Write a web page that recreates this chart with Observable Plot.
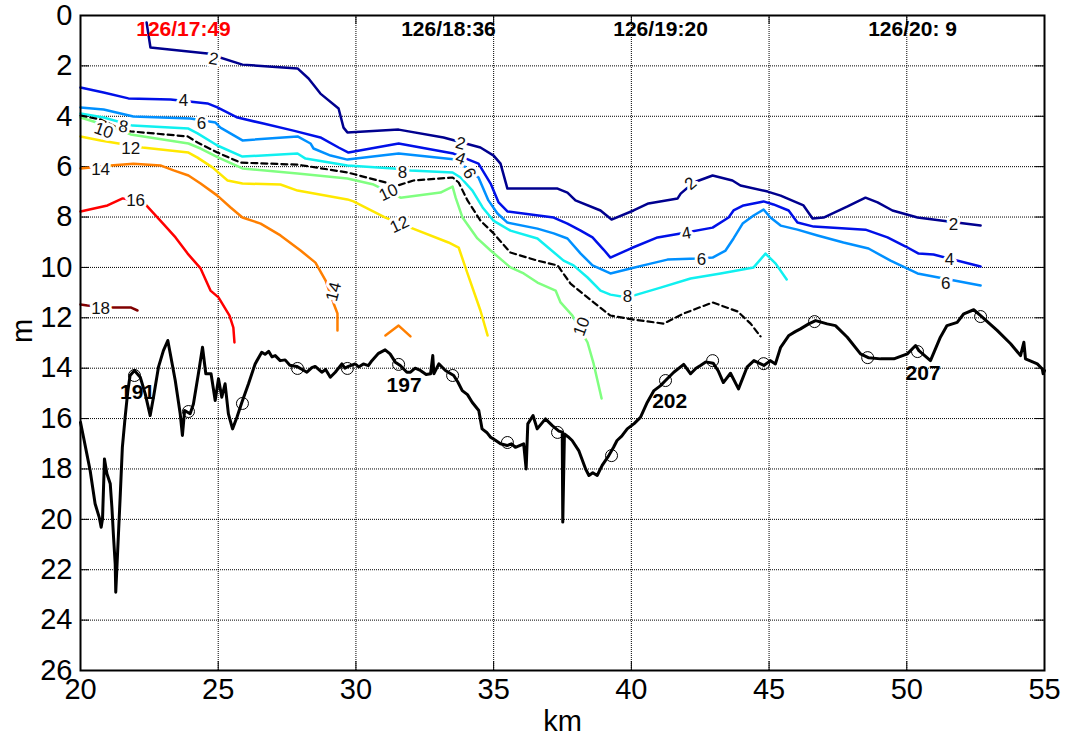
<!DOCTYPE html>
<html><head><meta charset="utf-8">
<script src="https://cdn.jsdelivr.net/npm/d3@7"></script>
<script src="https://cdn.jsdelivr.net/npm/@observablehq/plot@0.6"></script>
<style>body{margin:0;background:#fff;}</style>
</head><body><div id="chart"></div>
<script>
const xTicks = [20,25,30,35,40,45,50,55];
const yTicks = [0,2,4,6,8,10,12,14,16,18,20,22,24,26];

// isolines [km, m]
const c2 = [[22.40,0.28],[22.54,1.27],[24.61,1.51],[25.88,1.95],[27.88,2.10],[28.28,2.50],[28.71,3.10],[29.37,3.69],[29.55,4.45],[29.69,4.64],[31.55,4.53],[33.18,4.84],[34.52,5.24],[35.00,5.56],[35.25,5.88],[35.50,6.87],[37.32,6.87],[37.68,7.03],[37.97,7.34],[38.88,7.74],[39.28,8.10],[40.08,7.74],[40.62,7.46],[41.68,7.26],[41.79,7.07],[42.26,6.63],[42.95,6.35],[43.67,6.55],[43.96,6.75],[44.95,6.99],[45.42,7.15],[46.25,7.54],[46.58,8.06],[46.98,8.02],[47.85,7.58],[48.50,7.23],[48.94,7.42],[49.48,7.74],[50.39,8.02],[51.52,8.18],[52.68,8.34]];
const c4 = [[20.00,2.86],[20.84,3.06],[21.74,3.29],[23.27,3.33],[24.61,3.49],[24.97,3.65],[25.70,4.05],[26.64,4.29],[27.73,4.57],[28.71,4.84],[29.37,5.24],[29.73,5.44],[31.55,5.08],[33.54,5.48],[34.45,5.88],[34.89,6.67],[35.18,7.42],[35.50,7.78],[37.18,8.02],[37.68,8.26],[38.16,8.54],[38.59,8.81],[38.99,9.29],[39.24,9.61],[39.97,9.25],[40.95,8.81],[41.79,8.65],[42.95,8.42],[43.53,8.02],[43.71,7.74],[44.07,7.54],[44.80,7.38],[45.16,7.50],[45.71,7.74],[46.03,8.22],[46.62,8.38],[48.50,8.50],[49.30,8.81],[49.96,9.17],[50.43,9.45],[50.97,9.49],[52.68,9.96]];
const c6 = [[20.00,3.65],[20.84,3.73],[21.92,4.01],[23.99,4.09],[24.90,4.25],[25.08,4.45],[25.88,4.96],[27.88,4.80],[28.35,5.08],[28.46,5.28],[29.08,5.56],[29.69,5.72],[31.55,5.48],[33.62,5.72],[34.45,6.43],[34.81,7.34],[35.14,7.86],[35.50,8.22],[36.59,8.46],[37.18,8.65],[37.68,8.85],[38.16,9.45],[38.59,9.92],[39.24,10.24],[39.97,10.04],[40.70,9.85],[41.31,9.69],[42.40,9.65],[42.95,9.61],[43.42,9.33],[43.71,8.85],[44.04,8.26],[44.44,7.94],[44.80,7.70],[45.05,8.02],[45.42,8.34],[46.03,8.50],[46.76,8.73],[47.70,9.01],[48.61,9.25],[49.41,9.73],[50.39,10.24],[52.68,10.72]];
const c8 = [[20.00,3.89],[20.84,4.05],[21.89,4.37],[23.92,4.49],[24.25,4.68],[24.97,5.16],[25.88,5.60],[27.88,5.48],[28.17,5.68],[29.69,5.95],[31.37,6.07],[31.98,6.15],[33.51,6.23],[33.80,6.43],[34.23,6.95],[34.60,7.62],[34.99,8.14],[35.61,8.54],[36.59,8.85],[37.54,9.73],[37.90,9.92],[38.41,10.40],[38.88,10.92],[39.24,11.08],[39.86,11.19],[41.06,10.80],[42.15,10.44],[43.24,10.24],[44.44,10.00],[44.87,9.45],[45.24,9.85],[45.64,10.48]];
const c9dash = [[20.00,3.97],[20.73,4.13],[21.27,4.41],[21.82,4.60],[23.89,4.80],[24.25,5.04],[24.97,5.44],[25.81,5.84],[27.88,5.92],[29.69,6.23],[31.51,6.75],[32.09,6.55],[33.51,6.43],[33.73,6.63],[34.05,7.34],[34.52,8.14],[35.00,8.65],[35.61,9.41],[36.59,9.73],[37.32,9.92],[37.79,10.64],[38.63,11.39],[39.24,11.91],[40.08,12.07],[41.17,12.23],[41.90,11.83],[42.95,11.39],[43.86,11.75],[44.33,12.23],[44.69,12.74]];
const c10 = [[20.00,4.05],[20.47,4.21],[21.27,4.49],[21.82,4.72],[23.92,5.08],[24.36,5.28],[25.01,5.64],[25.88,6.07],[27.88,6.27],[29.69,6.47],[30.64,6.71],[31.62,7.23],[33.07,7.03],[33.51,6.79],[33.62,7.23],[33.87,8.02],[34.41,8.85],[34.89,9.33],[35.61,10.00],[36.09,10.24],[36.59,10.60],[37.25,10.92],[37.43,11.39],[37.86,11.91],[38.41,12.98],[38.63,13.82],[38.92,15.20]];
const c12 = [[20.00,4.80],[20.73,4.96],[22.25,5.24],[23.92,5.44],[24.25,5.64],[24.79,6.03],[25.34,6.55],[25.88,6.67],[27.26,6.71],[27.88,6.95],[29.69,7.30],[29.91,7.38],[31.07,8.02],[31.98,8.42],[33.36,9.01],[33.73,9.21],[34.05,10.24],[34.52,11.71],[34.78,12.70]];
const c14 = [[20.00,6.07],[21.09,5.95],[21.92,5.88],[22.90,5.95],[23.38,6.15],[23.92,6.35],[24.36,6.67],[24.97,7.15],[25.45,7.62],[25.88,8.02],[26.54,8.26],[27.26,8.73],[27.99,9.33],[28.53,9.81],[28.90,10.52],[29.19,11.43],[29.33,11.83],[29.33,12.50]];
const c14b = [[31.07,12.70],[31.55,12.31],[31.98,12.74]];
const c16 = [[20.00,7.78],[20.98,7.54],[21.53,7.26],[22.29,7.42],[22.90,8.14],[23.45,8.81],[23.89,9.45],[24.36,10.04],[24.72,10.92],[25.01,11.19],[25.41,11.91],[25.55,12.39],[25.59,12.98]];
const c18 = [[20.00,11.47],[20.25,11.51],[21.16,11.59],[21.82,11.59],[22.07,11.71]];

// bottom depth profile [km, m]
const bottom = [[20.00,16.15],[20.11,16.74],[20.23,17.40],[20.35,18.06],[20.53,19.38],[20.68,19.92],[20.75,20.31],[20.80,19.98],[20.87,17.60],[20.96,18.19],[21.08,18.59],[21.14,19.52],[21.20,20.71],[21.26,21.77],[21.28,22.89],[21.35,21.24],[21.44,19.12],[21.52,17.14],[21.62,15.95],[21.72,14.89],[21.80,14.29],[21.96,14.09],[22.17,14.36],[22.35,15.02],[22.53,15.88],[22.65,15.15],[22.83,13.96],[23.01,13.30],[23.17,12.90],[23.26,13.43],[23.44,14.49],[23.62,15.81],[23.70,16.67],[23.78,15.68],[23.98,15.81],[24.10,15.42],[24.28,14.22],[24.43,13.17],[24.55,14.22],[24.74,14.22],[24.89,15.28],[25.01,14.42],[25.13,15.15],[25.25,14.62],[25.37,15.81],[25.52,16.41],[25.68,15.95],[25.86,15.35],[26.10,14.62],[26.34,13.83],[26.58,13.37],[26.70,13.45],[26.83,13.33],[26.95,13.55],[27.07,13.50],[27.25,13.70],[27.43,13.67],[27.60,13.88],[27.85,13.93],[28.05,14.05],[28.22,14.16],[28.40,13.98],[28.52,13.93],[28.76,14.16],[28.90,14.05],[29.07,14.36],[29.25,14.16],[29.49,13.83],[29.60,14.00],[29.73,13.93],[29.97,13.83],[30.10,13.95],[30.27,13.83],[30.45,13.90],[30.58,13.70],[30.82,13.41],[31.06,13.27],[31.24,13.43],[31.43,13.76],[31.61,13.89],[31.85,14.16],[31.98,14.16],[32.15,14.00],[32.34,14.09],[32.55,14.25],[32.71,14.22],[32.79,13.50],[32.83,14.22],[33.01,13.83],[33.25,14.09],[33.55,14.29],[33.70,14.55],[33.86,14.89],[34.05,15.05],[34.22,15.35],[34.46,15.68],[34.58,16.41],[34.75,16.55],[34.89,16.74],[35.05,16.85],[35.25,17.00],[35.49,17.07],[35.65,17.00],[35.79,17.14],[36.09,17.00],[36.18,18.00],[36.24,16.21],[36.43,15.88],[36.58,16.41],[36.88,16.01],[37.13,16.28],[37.37,16.50],[37.49,16.54],[37.51,20.11],[37.57,16.61],[37.70,16.72],[37.85,16.87],[38.09,17.27],[38.34,18.00],[38.46,18.26],[38.60,18.15],[38.76,18.26],[38.94,17.86],[39.18,17.47],[39.35,17.15],[39.48,16.87],[39.65,16.70],[39.85,16.41],[40.10,16.20],[40.33,15.95],[40.58,15.35],[40.82,14.89],[41.05,14.70],[41.24,14.49],[41.54,14.16],[41.90,13.85],[42.15,14.22],[42.35,14.00],[42.51,13.89],[42.70,13.75],[42.97,13.80],[43.15,14.10],[43.34,14.57],[43.60,14.20],[43.89,14.82],[44.20,13.96],[44.45,13.70],[44.81,13.89],[45.05,13.70],[45.23,13.83],[45.42,13.17],[45.72,12.70],[45.95,12.55],[46.14,12.44],[46.44,12.24],[46.69,12.11],[47.11,12.24],[47.41,12.31],[47.84,12.77],[48.32,13.43],[48.62,13.59],[49.05,13.63],[49.53,13.63],[50.02,13.43],[50.32,13.10],[50.44,13.30],[50.86,13.70],[51.22,12.77],[51.46,12.31],[51.83,12.18],[52.07,11.84],[52.43,11.68],[52.68,11.91],[53.28,12.50],[53.77,13.03],[54.13,13.50],[54.25,12.97],[54.31,13.63],[54.74,13.83],[54.92,14.03],[54.95,14.22],[55.00,14.10]];

const stationKm = [21.96,23.92,25.88,27.88,29.69,31.55,33.51,35.50,37.32,39.28,41.24,42.95,44.80,46.65,48.58,50.39,52.68];
const stationM  = [14.29,15.72,15.40,14.01,14.01,13.85,14.29,16.95,16.55,17.47,14.49,13.70,13.82,12.15,13.58,13.34,11.95];

const stationNames = ["191","197","202","207"];
const stationNameKm = [22.07,31.75,41.39,50.59];
const stationNameM = [14.97,14.69,15.30,14.19];

const timeLabels = ["126/17:49","126/18:36","126/19:20","126/20: 9"];
const timeKm = [23.74,33.36,41.06,50.21];
const timeM = [0.56,0.56,0.56,0.56];

const labelText = ["2","2","2","2","4","4","4","4","6","6","6","6","10","8","8","8","10","10","12","12","14","14","16","18"];
const labelKm = [24.83,33.80,42.15,51.70,23.74,33.80,42.00,51.55,24.39,34.12,42.55,51.41,20.84,21.56,31.69,39.86,31.18,38.19,21.82,31.58,20.73,29.19,22.00,20.73];
const labelM  = [1.72,5.08,6.67,8.30,3.37,5.68,8.65,9.69,4.29,6.27,9.69,10.64,4.57,4.41,6.23,11.15,7.03,12.35,5.28,8.30,6.11,10.96,7.34,11.63];
const labelAngle = [10,15,-40,0,0,20,-10,0,0,60,0,0,20,10,0,0,-25,-70,0,-25,0,-75,0,0];

const series = [
  {pts: c2, color: "#00008f"},
  {pts: c4, color: "#0010e8"},
  {pts: c6, color: "#0090ff"},
  {pts: c8, color: "#10f0f0"},
  {pts: c10, color: "#80ff80"},
  {pts: c12, color: "#ffe800"},
  {pts: c14, color: "#ff7f00"},
  {pts: c14b, color: "#ff7f00"},
  {pts: c16, color: "#ff0000"},
  {pts: c18, color: "#800000"}
];

const W = 1065, H = 742, mL = 80, mR = 21, mT = 15, mB = 72;
const pw = W - mL - mR, ph = H - mT - mB;

const labels = labelText.map((t, i) => ({t, km: labelKm[i], m: labelM[i], a: labelAngle[i]}));
const stations = stationKm.map((k, i) => ({km: k, m: stationM[i]}));
const names = stationNames.map((t, i) => ({t, km: stationNameKm[i], m: stationNameM[i]}));
const times = timeLabels.map((t, i) => ({t, km: timeKm[i], m: timeM[i], c: i === 0 ? "#ff0000" : "#000"}));

const font = "Liberation Sans, Arial, Helvetica, sans-serif";

const marks = [
  Plot.gridX(xTicks, {stroke: "#000", strokeOpacity: 1, strokeWidth: 1, strokeDasharray: "1,1"}),
  Plot.gridY(yTicks, {stroke: "#000", strokeOpacity: 1, strokeWidth: 1, strokeDasharray: "1,1"}),
  Plot.tickY(yTicks, {y: d => d, stroke: "#000", insetRight: pw - 9}),
  Plot.tickY(yTicks, {y: d => d, stroke: "#000", insetLeft: pw - 9}),
  Plot.tickX(xTicks, {x: d => d, stroke: "#000", insetTop: ph - 9}),
  Plot.tickX(xTicks, {x: d => d, stroke: "#000", insetBottom: ph - 9}),
  ...series.map(s => Plot.line(s.pts, {x: d => d[0], y: d => d[1], stroke: s.color, strokeWidth: 2.5})),
  Plot.line(c9dash, {x: d => d[0], y: d => d[1], stroke: "#000", strokeWidth: 2.2, strokeDasharray: "6,4"}),
  Plot.text(labels, {x: "km", y: "m", text: "t", rotate: "a", fontSize: 17, fill: "#111", stroke: "white", strokeWidth: 6, paintOrder: "stroke", fontFamily: font}),
  Plot.line(bottom, {x: d => d[0], y: d => d[1], stroke: "#000", strokeWidth: 3, strokeLinejoin: "round"}),
  Plot.dot(stations, {x: "km", y: "m", r: 6, stroke: "#000", strokeWidth: 1, fill: "none"}),
  Plot.text(names, {x: "km", y: "m", text: "t", fontSize: 21, fontWeight: "bold", fill: "#000", fontFamily: font}),
  Plot.text(times, {x: "km", y: "m", text: "t", fontSize: 21, fontWeight: "bold", fill: "c", fontFamily: font}),
  Plot.frame({stroke: "#000", strokeWidth: 2}),
  Plot.axisX(xTicks, {anchor: "bottom", tickSize: 0, tickPadding: 8, fontSize: 29, label: null, fontFamily: font}),
  Plot.axisY(yTicks, {anchor: "left", tickSize: 0, tickPadding: 8, fontSize: 29, label: null, fontFamily: font}),
  Plot.text(["km"], {frameAnchor: "bottom", dy: 60, fontSize: 29, fontFamily: font, fill: "#000"}),
  Plot.text(["m"], {frameAnchor: "left", dx: -58, rotate: -90, fontSize: 29, fontFamily: font, fill: "#000"})
];

const chart = Plot.plot({
  width: W, height: H,
  marginLeft: mL, marginRight: mR, marginTop: mT, marginBottom: mB,
  style: {fontFamily: font, background: "#fff", color: "#000"},
  x: {domain: [20, 55]},
  y: {domain: [0, 26], reverse: true},
  marks
});
document.getElementById("chart").appendChild(chart);
</script>
</body></html>
